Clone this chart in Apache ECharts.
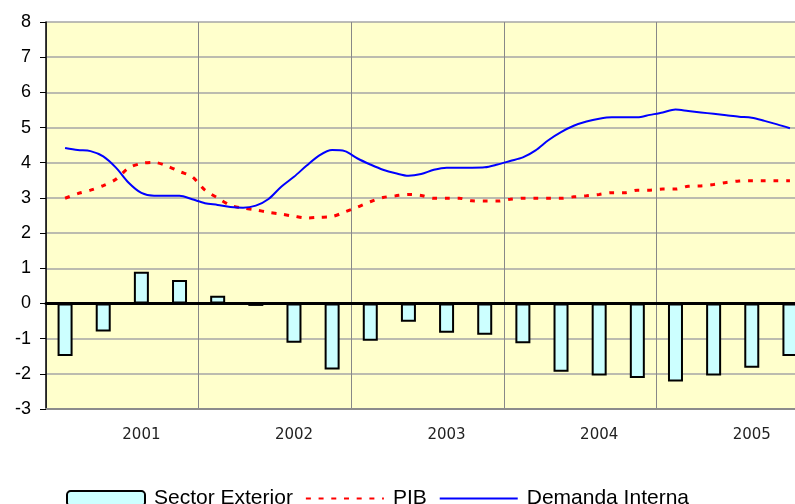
<!DOCTYPE html>
<html>
<head>
<meta charset="utf-8">
<script src="https://cdn.jsdelivr.net/npm/echarts@6/dist/echarts.min.js"></script>
<style>
  html, body { margin: 0; padding: 0; background: #fff; overflow: hidden; }
  /* el gráfico original está recortado por la derecha */
  #main { width: 809px; height: 504px; }
</style>
</head>
<body>
<div id="main"></div>
<script>
// categorías trimestrales
var years = ['2001', '2002', '2003', '2004', '2005'];
var quarters = [];
years.forEach(function (y) {
  ['T1', 'T2', 'T3', 'T4'].forEach(function (q) { quarters.push(y + ' ' + q); });
});

// aportación del sector exterior (barras, trimestral)
var sectorExterior = [-1.49, -0.80, 0.90, 0.67, 0.22, -0.07, -1.12, -1.88, -1.06, -0.52,
  -0.83, -0.89, -1.13, -1.94, -2.05, -2.12, -2.22, -2.05, -1.83, -1.49];

// PIB y demanda interna (mensual, desde el centro del primer trimestre)
var pib = [2.99, 3.12, 3.22, 3.35, 3.53, 3.85, 3.98, 4.01, 3.91, 3.75,
  3.60, 3.22, 3.00, 2.79, 2.71, 2.66, 2.59, 2.54, 2.48, 2.43,
  2.45, 2.47, 2.60, 2.74, 2.89, 3.01, 3.06, 3.10, 3.07, 2.99,
  2.99, 2.99, 2.92, 2.91, 2.91, 2.96, 2.99, 2.99, 2.99, 2.99,
  3.03, 3.06, 3.10, 3.15, 3.15, 3.22, 3.22, 3.25, 3.25, 3.33,
  3.34, 3.38, 3.44, 3.48, 3.49, 3.49, 3.49, 3.49];
var demandaInterna = [4.42, 4.36, 4.33, 4.18, 3.86, 3.43, 3.14, 3.06, 3.06, 3.06,
  2.96, 2.85, 2.80, 2.74, 2.72, 2.78, 2.97, 3.32, 3.60, 3.92,
  4.21, 4.36, 4.33, 4.12, 3.95, 3.80, 3.70, 3.63, 3.68, 3.80,
  3.86, 3.86, 3.86, 3.87, 3.95, 4.05, 4.15, 4.35, 4.64, 4.87,
  5.05, 5.17, 5.25, 5.29, 5.29, 5.29, 5.36, 5.43, 5.51, 5.47,
  5.43, 5.39, 5.35, 5.31, 5.28, 5.19, 5.09, 4.98];

function toPoints(arr) {
  return arr.map(function (v, i) { return [i / 3, v]; });
}

var chart = echarts.init(document.getElementById('main'));
var option = {
  animation: false,
  grid: {
    left: 46, right: 0, top: 22, height: 387,
    show: true, backgroundColor: '#FFFFCC', borderWidth: 0
  },
  legend: {
    left: 66, top: 488, padding: 0,
    itemWidth: 78, itemHeight: 15, itemGap: 12,
    textStyle: {
      fontFamily: 'Liberation Sans, Arial', fontSize: 21, color: '#000',
      padding: [0, 0, 7, 4]
    },
    data: [
      'Sector Exterior',
      { name: 'PIB', itemStyle: { opacity: 0 } },
      { name: 'Demanda Interna', itemStyle: { opacity: 0 } }
    ]
  },
  xAxis: [
    { // eje en cero
      type: 'category', data: quarters, boundaryGap: true, z: 3,
      axisLine: { onZero: true, lineStyle: { color: '#000', width: 3 } },
      axisTick: { show: false }, axisLabel: { show: false }, splitLine: { show: false }
    },
    { // etiquetas de años abajo
      type: 'category', data: quarters, boundaryGap: true, position: 'bottom',
      axisLine: { onZero: false, lineStyle: { color: '#8c8c8c', width: 2 } },
      axisTick: { show: false },
      axisLabel: {
        interval: function (i) { return i % 4 === 2; },
        formatter: function (v) { return v.slice(0, 4); },
        margin: 19, fontSize: 15, color: '#222', fontFamily: 'DejaVu Sans'
      },
      splitLine: {
        show: true,
        interval: function (i) { return i % 4 === 0; },
        lineStyle: { color: '#888', width: 1 }
      }
    },
    {
      type: 'value', min: -0.5, max: 19.5, show: false
    }
  ],
  yAxis: {
    type: 'value', min: -3, max: 8, interval: 1,
    axisLine: { show: true, onZero: false, lineStyle: { color: '#000', width: 1.5 } },
    axisTick: { show: true, length: 6, lineStyle: { color: '#000' } },
    axisLabel: { fontSize: 18, color: '#000', margin: 15, fontFamily: 'Liberation Sans, Arial' },
    splitLine: { show: true, lineStyle: { color: '#a6a6a6', width: 1.5 } }
  },
  series: [
    {
      name: 'Sector Exterior', type: 'bar', xAxisIndex: 0,
      data: sectorExterior, barWidth: 15,
      itemStyle: { color: '#CCFFFF', borderColor: '#000', borderWidth: 2 }
    },
    {
      name: 'PIB', type: 'line', xAxisIndex: 2,
      data: toPoints(pib), symbol: 'none', smooth: 0.3,
      lineStyle: { color: '#FF0000', width: 3, type: [5, 7.7] },
      itemStyle: { color: '#FF0000' }
    },
    {
      name: 'Demanda Interna', type: 'line', xAxisIndex: 2,
      data: toPoints(demandaInterna), symbol: 'none', smooth: 0.3,
      lineStyle: { color: '#0000FF', width: 2 },
      itemStyle: { color: '#0000FF' }
    }
  ]
};
chart.setOption(option);
</script>
</body>
</html>
